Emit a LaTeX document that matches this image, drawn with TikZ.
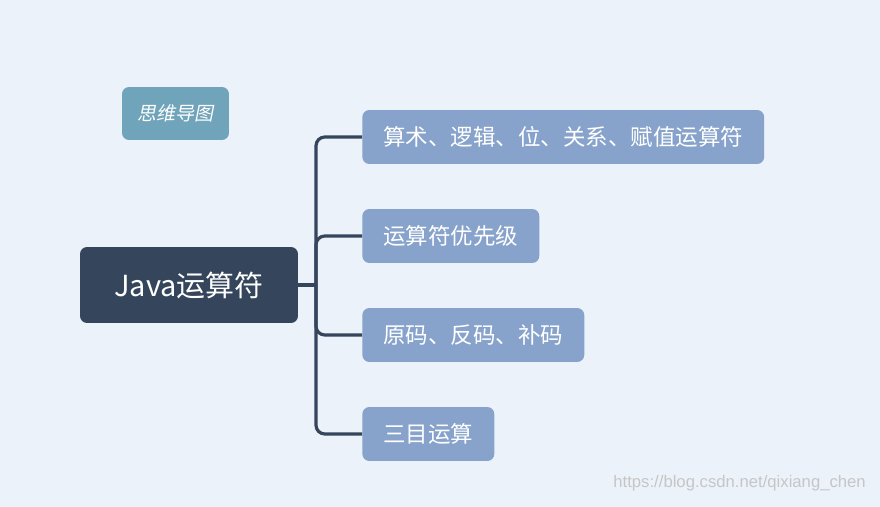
\documentclass[tikz,border=0pt]{standalone}
\usepackage{fontspec}
\setmainfont{Noto Sans CJK SC}
\newfontfamily\slantcjk[FakeSlant=0.2]{Noto Sans CJK SC}
\newfontfamily\markfont{Liberation Sans}
\usetikzlibrary{positioning}
\definecolor{bgblue}{RGB}{235, 242, 249}
\definecolor{rootdark}{RGB}{53, 69, 92}
\definecolor{leafblue}{RGB}{135, 163, 203}
\definecolor{tagteal}{RGB}{112, 164, 186}
\tikzset{
    leafbox/.style={
        rectangle, rounded corners=4pt, minimum height=1.08cm, inner xsep=0.42cm,
        fill=leafblue, text=white, font=\fontsize{12.8}{15}\selectfont, anchor=west
    },
    rootbox/.style={
        rectangle, rounded corners=4pt, minimum width=4.36cm, minimum height=1.52cm,
        fill=rootdark, text=white, font=\fontsize{16.5}{19}\selectfont
    },
    tagbox/.style={
        rectangle, rounded corners=4pt, minimum width=2.14cm, minimum height=1.06cm,
        fill=tagteal, text=white, font=\fontsize{10.8}{13}\selectfont\slantcjk
    },
    link/.style={rootdark, line width=1.8pt, rounded corners=5pt},
}
\begin{document}
\begin{tikzpicture}[x=0.02cm, y=-0.02cm]
    \fill[bgblue] (0, 0) rectangle (880, 507);

    \node[tagbox] (tag) at (175.5, 113.5) {思维导图};
    \node[rootbox] (root) at (189, 285) {Java运算符};

    \node[leafbox] (ops) at (362, 137) {算术、逻辑、位、关系、赋值运算符};
    \node[leafbox] (prio) at (362, 236) {运算符优先级};
    \node[leafbox] (code) at (362, 335) {原码、反码、补码};
    \node[leafbox] (tern) at (362, 434) {三目运算};

    \coordinate (hub) at (316, 285);
    \draw[link] (root.east) -- (hub);
    \foreach \leaf in {ops, prio, code, tern}
        \draw[link] (hub) |- (\leaf.west);

    \node[gray!45, font=\fontsize{9.5}{11}\selectfont\markfont, anchor=south east] (mark) at (872, 497) {https://blog.csdn.net/qixiang\_chen};
\end{tikzpicture}
\end{document}
